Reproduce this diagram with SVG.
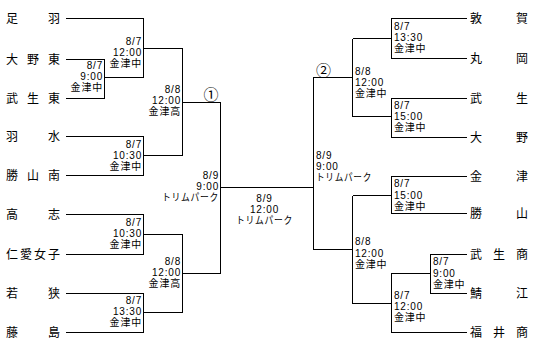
<svg xmlns="http://www.w3.org/2000/svg" width="535" height="360" viewBox="0 0 535 360">
<style>
.bg{fill:#fff}
.ln{fill:none;stroke:#000;stroke-width:1;shape-rendering:crispEdges}
.tm{font-family:"Noto Sans CJK JP","Noto Sans CJK SC",sans-serif;font-size:12px;fill:#000}
.lb{font-family:"Liberation Sans","Noto Sans CJK JP","Noto Sans CJK SC",sans-serif;font-size:10px;letter-spacing:0.8px;fill:#000}
.r{text-anchor:end}
.m{text-anchor:middle}
.cn{font-family:"Noto Sans CJK JP","Noto Sans CJK SC",sans-serif;font-size:15px;fill:#000;text-anchor:middle}
</style>
<rect class="bg" x="0" y="0" width="535" height="360"/>
<g id="connectors" class="ln">
<path d="M66,18.5H143.5V77.5H104.5M66,59.5H104.5V98.5H66M143.5,48.5H182.5"/>
<path d="M66,136.5H143.5V175.5H66M143.5,155.5H182.5V48.5M182.5,102.5H220.5"/>
<path d="M66,214.5H143.5V254.5H66M143.5,234.5H182.5V312.5H143.5M66,293.5H143.5V332.5H66M182.5,273.5H220.5V102.5M220.5,187.5H313.5"/>
<path d="M313.5,249.5V77.5H352.5M352.5,38.5H391.5M467,18.5H391.5V58.5H467M352.5,38.5V116.5H391.5M467,98.5H391.5V137.5H467"/>
<path d="M313.5,249.5H352.5M352.5,195.5H391.5M467,176.5H391.5V213.5H467M352.5,195.5V303.5H391.5M467,332.5H391.5V273.5H430.5M467,254.5H430.5V293.5H467"/>
</g>
<g id="team-L1"><text class="tm" x="6" y="23" textLength="54" lengthAdjust="spacing">足羽</text></g>
<g id="team-L2"><text class="tm" x="6" y="64" textLength="54" lengthAdjust="spacing">大野東</text></g>
<g id="team-L3"><text class="tm" x="6" y="103" textLength="54" lengthAdjust="spacing">武生東</text></g>
<g id="team-L4"><text class="tm" x="6" y="141" textLength="54" lengthAdjust="spacing">羽水</text></g>
<g id="team-L5"><text class="tm" x="6" y="180" textLength="54" lengthAdjust="spacing">勝山南</text></g>
<g id="team-L6"><text class="tm" x="6" y="219" textLength="54" lengthAdjust="spacing">高志</text></g>
<g id="team-L7"><text class="tm" x="6" y="259" textLength="54" lengthAdjust="spacing">仁愛女子</text></g>
<g id="team-L8"><text class="tm" x="6" y="298" textLength="54" lengthAdjust="spacing">若狭</text></g>
<g id="team-L9"><text class="tm" x="6" y="337" textLength="54" lengthAdjust="spacing">藤島</text></g>
<g id="team-R1"><text class="tm" x="470" y="23" textLength="58" lengthAdjust="spacing">敦賀</text></g>
<g id="team-R2"><text class="tm" x="470" y="63" textLength="58" lengthAdjust="spacing">丸岡</text></g>
<g id="team-R3"><text class="tm" x="470" y="103" textLength="58" lengthAdjust="spacing">武生</text></g>
<g id="team-R4"><text class="tm" x="470" y="142" textLength="58" lengthAdjust="spacing">大野</text></g>
<g id="team-R5"><text class="tm" x="470" y="181" textLength="58" lengthAdjust="spacing">金津</text></g>
<g id="team-R6"><text class="tm" x="470" y="218" textLength="58" lengthAdjust="spacing">勝山</text></g>
<g id="team-R7"><text class="tm" x="470" y="259" textLength="58" lengthAdjust="spacing">武生商</text></g>
<g id="team-R8"><text class="tm" x="470" y="298" textLength="58" lengthAdjust="spacing">鯖江</text></g>
<g id="team-R9"><text class="tm" x="470" y="337" textLength="58" lengthAdjust="spacing">福井商</text></g>
<g id="match-A"><text class="lb r"><tspan x="142" y="44.8">8/7</tspan><tspan x="142" y="56">12:00</tspan><tspan x="142" y="67.2">金津中</tspan></text></g>
<g id="match-B"><text class="lb r"><tspan x="103" y="68.8">8/7</tspan><tspan x="103" y="80">9:00</tspan><tspan x="103" y="91.2">金津中</tspan></text></g>
<g id="match-C"><text class="lb r"><tspan x="142" y="147.8">8/7</tspan><tspan x="142" y="159">10:30</tspan><tspan x="142" y="170.2">金津中</tspan></text></g>
<g id="match-D"><text class="lb r"><tspan x="181" y="92.8">8/8</tspan><tspan x="181" y="104">12:00</tspan><tspan x="181" y="115.2">金津高</tspan></text></g>
<g id="match-E"><text class="lb r"><tspan x="142" y="225.8">8/7</tspan><tspan x="142" y="237">10:30</tspan><tspan x="142" y="248.2">金津中</tspan></text></g>
<g id="match-F"><text class="lb r"><tspan x="142" y="303.8">8/7</tspan><tspan x="142" y="315">13:30</tspan><tspan x="142" y="326.2">金津中</tspan></text></g>
<g id="match-G"><text class="lb r"><tspan x="181" y="264.8">8/8</tspan><tspan x="181" y="276">12:00</tspan><tspan x="181" y="287.2">金津高</tspan></text></g>
<g id="match-H"><text class="lb r"><tspan x="219" y="178.8">8/9</tspan><tspan x="219" y="190">9:00</tspan><tspan x="219" y="201.2" textLength="57" lengthAdjust="spacingAndGlyphs">トリムパーク</tspan></text></g>
<g id="match-final"><text class="lb m"><tspan x="264.5" y="201.8">8/9</tspan><tspan x="264.5" y="213">12:00</tspan><tspan x="264.5" y="224.2" textLength="57" lengthAdjust="spacingAndGlyphs">トリムパーク</tspan></text></g>
<g id="match-J"><text class="lb"><tspan x="394" y="29.8">8/7</tspan><tspan x="394" y="41">13:30</tspan><tspan x="394" y="52.2">金津中</tspan></text></g>
<g id="match-K"><text class="lb"><tspan x="355" y="74.8">8/8</tspan><tspan x="355" y="86">12:00</tspan><tspan x="355" y="97.2">金津中</tspan></text></g>
<g id="match-L"><text class="lb"><tspan x="394" y="108.8">8/7</tspan><tspan x="394" y="120">15:00</tspan><tspan x="394" y="131.2">金津中</tspan></text></g>
<g id="match-M"><text class="lb"><tspan x="316" y="158.8">8/9</tspan><tspan x="316" y="170">9:00</tspan><tspan x="316" y="181.2" textLength="56" lengthAdjust="spacingAndGlyphs">トリムパーク</tspan></text></g>
<g id="match-N"><text class="lb"><tspan x="394" y="187.3">8/7</tspan><tspan x="394" y="198.5">15:00</tspan><tspan x="394" y="209.7">金津中</tspan></text></g>
<g id="match-O"><text class="lb"><tspan x="355" y="245.3">8/8</tspan><tspan x="355" y="256.5">12:00</tspan><tspan x="355" y="267.7">金津中</tspan></text></g>
<g id="match-P"><text class="lb"><tspan x="433" y="265.3">8/7</tspan><tspan x="433" y="276.5">9:00</tspan><tspan x="433" y="287.7">金津中</tspan></text></g>
<g id="match-Q"><text class="lb"><tspan x="394" y="298.8">8/7</tspan><tspan x="394" y="310">12:00</tspan><tspan x="394" y="321.2">金津中</tspan></text></g>
<g id="semi-1"><text class="cn" x="211" y="99.5">①</text></g>
<g id="semi-2"><text class="cn" x="323.5" y="76">②</text></g>
</svg>
